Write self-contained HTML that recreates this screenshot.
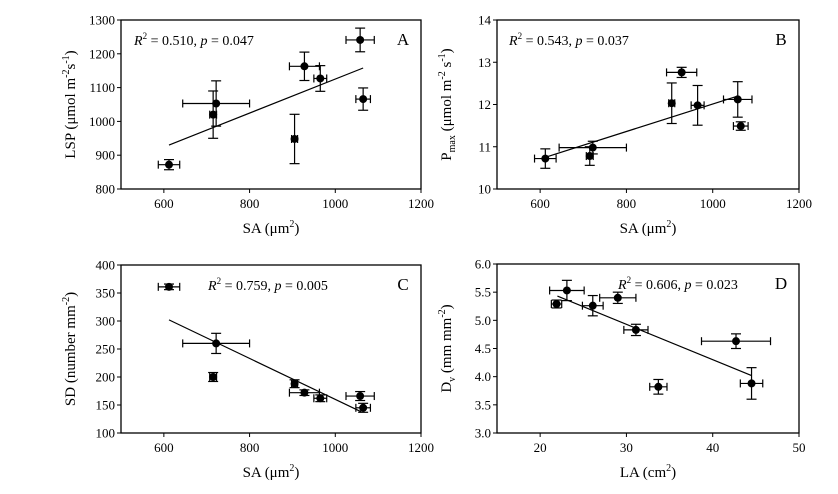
<!DOCTYPE html>
<html><head><meta charset="utf-8">
<style>
html,body{margin:0;padding:0;background:#fff;}
svg{display:block;font-family:"Liberation Serif",serif;}
</style></head>
<body>
<svg id="fig" width="838" height="494" viewBox="0 0 838 494" xmlns="http://www.w3.org/2000/svg"></svg>
<script>
// Panel A: SA vs LSP
const saX = [612, 715, 722, 905, 928, 965, 1058, 1065];
const saXerr = [25, 8, 78, 7, 35, 15, 33, 17];
const lspY = [872, 1020, 1053, 948, 1163, 1127, 1241, 1066];
const lspErr = [15, 70, 67, 73, 42, 38, 35, 33];
const lspFit = [[612, 930], [1065, 1158]];
const lspTicksY = [800, 900, 1000, 1100, 1200, 1300];
// Panel B: SA vs Pmax
const pmaxY = [10.72, 10.78, 10.98, 12.03, 12.76, 11.98, 12.12, 11.49];
const pmaxErr = [0.23, 0.22, 0.15, 0.48, 0.12, 0.47, 0.42, 0.1];
const pmaxFit = [[612, 10.75], [1058, 12.2]];
const pmaxTicksY = [10, 11, 12, 13, 14];
// Panel C: SA vs SD
const sdY = [361, 200, 260, 188, 172, 162, 166, 145];
const sdErr = [5, 8, 18, 7, 5, 6, 8, 8];
const sdFit = [[612, 302], [1060, 138]];
const sdTicksY = [100, 150, 200, 250, 300, 350, 400];
const saTicksX = [600, 800, 1000, 1200];
// Panel D: LA vs Dv
const laX = [21.9, 23.1, 26.1, 29.0, 31.1, 33.7, 42.7, 44.5];
const laXerr = [0.6, 2.0, 1.2, 2.1, 1.4, 1.0, 4.0, 1.3];
const dvY = [5.29, 5.53, 5.26, 5.40, 4.83, 3.82, 4.63, 3.88];
const dvErr = [0.07, 0.18, 0.18, 0.1, 0.1, 0.13, 0.13, 0.28];
const dvFit = [[22, 5.43], [44.5, 4.02]];
const dvTicksY = [3.0, 3.5, 4.0, 4.5, 5.0, 5.5, 6.0];
const laTicksX = [20, 30, 40, 50];

const NS = "http://www.w3.org/2000/svg";
const svg = document.getElementById('fig');
function mk(tag, attrs, parent, text) {
  const e = document.createElementNS(NS, tag);
  for (const k in attrs) e.setAttribute(k, attrs[k]);
  if (text !== undefined) e.textContent = text;
  (parent || svg).appendChild(e);
  return e;
}

function panel(o) {
  const g = mk('g', {});
  
  
  const L = o.left, T = o.top, W = o.w, H = o.h;
  const sx = v => L + (v - o.xmin) / (o.xmax - o.xmin) * W;
  const sy = v => T + H - (v - o.ymin) / (o.ymax - o.ymin) * H;
  const box = mk('rect', {x: L, y: T, width: W, height: H, fill: 'none', stroke: '#000', 'stroke-width': 1.3}, g);
  
  
  o.ticksY.forEach(v => {
    const y = sy(v);
    mk('line', {x1: L - 4, x2: L, y1: y, y2: y, stroke: '#000', 'stroke-width': 1}, g);
    const t = mk('text', {x: L - 6, y: y + 4.5, 'text-anchor': 'end', 'font-size': 13}, g, o.fmtY(v));
    
    
  });
  o.ticksX.forEach(v => {
    const x = sx(v);
    mk('line', {x1: x, x2: x, y1: T + H, y2: T + H + 4, stroke: '#000', 'stroke-width': 1}, g);
    const t = mk('text', {x: x, y: T + H + 19, 'text-anchor': 'middle', 'font-size': 13}, g, String(v));
    
    
  });
  // fit line
  const fl = mk('line', {x1: sx(o.fit[0][0]), y1: sy(o.fit[0][1]), x2: sx(o.fit[1][0]), y2: sy(o.fit[1][1]), stroke: '#000', 'stroke-width': 1.2}, g);
  
  
  // points
  for (let i = 0; i < o.xs.length; i++) {
    const x = sx(o.xs[i]), y = sy(o.ys[i]);
    const xl = sx(o.xs[i] - o.xe[i]), xr = sx(o.xs[i] + o.xe[i]);
    const yt = sy(o.ys[i] + o.ye[i]), yb = sy(o.ys[i] - o.ye[i]);
    const eg = mk('g', {stroke: '#000', 'stroke-width': 1.2}, g);
    
    
    mk('line', {x1: xl, x2: xr, y1: y, y2: y}, eg);
    mk('line', {x1: xl, x2: xl, y1: y - 4, y2: y + 4}, eg);
    mk('line', {x1: xr, x2: xr, y1: y - 4, y2: y + 4}, eg);
    mk('line', {x1: x, x2: x, y1: yt, y2: yb}, eg);
    mk('line', {x1: x - 5, x2: x + 5, y1: yt, y2: yt}, eg);
    mk('line', {x1: x - 5, x2: x + 5, y1: yb, y2: yb}, eg);
    const c = mk('circle', {cx: x, cy: y, r: 4, fill: '#000'}, g);
    
    
  }
  // annotation
  const an = mk('text', {x: o.annX, y: T + 25, 'font-size': 14}, g);
  
  
  an.innerHTML = '<tspan font-style="italic">R</tspan><tspan font-size="9" dy="-6">2</tspan><tspan dy="6"> = ' + o.r2 + ', </tspan><tspan font-style="italic">p</tspan><tspan> = ' + o.p + '</tspan>';
  const pl = mk('text', {x: L + W - 18, y: T + 25, 'font-size': 17, 'text-anchor': 'middle'}, g, o.id);
  
  
  // x title
  const xt = mk('text', {x: L + W / 2, y: T + H + 44, 'text-anchor': 'middle', 'font-size': 15}, g);
  
  
  xt.innerHTML = o.xtitle;
  // y title
  const cy = T + H / 2;
  const yt2 = mk('text', {x: 0, y: 0, 'text-anchor': 'middle', 'font-size': 15, transform: 'translate(' + (L - 46) + ',' + cy + ') rotate(-90)'}, g);
  
  
  yt2.innerHTML = o.ytitle;
}

const saTitle = 'SA (μm<tspan font-size="10" dy="-6">2</tspan><tspan dy="6">)</tspan>';
panel({id: 'A', left: 121, top: 20, w: 300, h: 169, xmin: 500, xmax: 1200, ymin: 800, ymax: 1300,
  xs: saX, xe: saXerr, ys: lspY, ye: lspErr, fit: lspFit, ticksX: saTicksX, ticksY: lspTicksY,
  fmtY: v => String(v), annX: 134, r2: '0.510', p: '0.047', xtitle: saTitle,
  ytitle: 'LSP (μmol m<tspan font-size="10" dy="-6">-2</tspan><tspan dy="6">s</tspan><tspan font-size="10" dy="-6">-1</tspan><tspan dy="6">)</tspan>'});
panel({id: 'B', left: 497, top: 20, w: 302, h: 169, xmin: 500, xmax: 1200, ymin: 10, ymax: 14,
  xs: saX, xe: saXerr, ys: pmaxY, ye: pmaxErr, fit: pmaxFit, ticksX: saTicksX, ticksY: pmaxTicksY,
  fmtY: v => String(v), annX: 509, r2: '0.543', p: '0.037', xtitle: saTitle,
  ytitle: 'P<tspan font-size="10" dy="4">max</tspan><tspan dy="-4"> (μmol m</tspan><tspan font-size="10" dy="-6">-2</tspan><tspan dy="6"> s</tspan><tspan font-size="10" dy="-6">-1</tspan><tspan dy="6">)</tspan>'});
panel({id: 'C', left: 121, top: 265, w: 300, h: 168, xmin: 500, xmax: 1200, ymin: 100, ymax: 400,
  xs: saX, xe: saXerr, ys: sdY, ye: sdErr, fit: sdFit, ticksX: saTicksX, ticksY: sdTicksY,
  fmtY: v => String(v), annX: 208, r2: '0.759', p: '0.005', xtitle: saTitle,
  ytitle: 'SD (number mm<tspan font-size="10" dy="-6">-2</tspan><tspan dy="6">)</tspan>'});
panel({id: 'D', left: 497, top: 264, w: 302, h: 169, xmin: 15, xmax: 50, ymin: 3, ymax: 6,
  xs: laX, xe: laXerr, ys: dvY, ye: dvErr, fit: dvFit, ticksX: laTicksX, ticksY: dvTicksY,
  fmtY: v => v.toFixed(1), annX: 618, r2: '0.606', p: '0.023',
  xtitle: 'LA (cm<tspan font-size="10" dy="-6">2</tspan><tspan dy="6">)</tspan>',
  ytitle: 'D<tspan font-size="10" dy="4">v</tspan><tspan dy="-4"> (mm mm</tspan><tspan font-size="10" dy="-6">-2</tspan><tspan dy="6">)</tspan>'});
</script>
</body></html>
